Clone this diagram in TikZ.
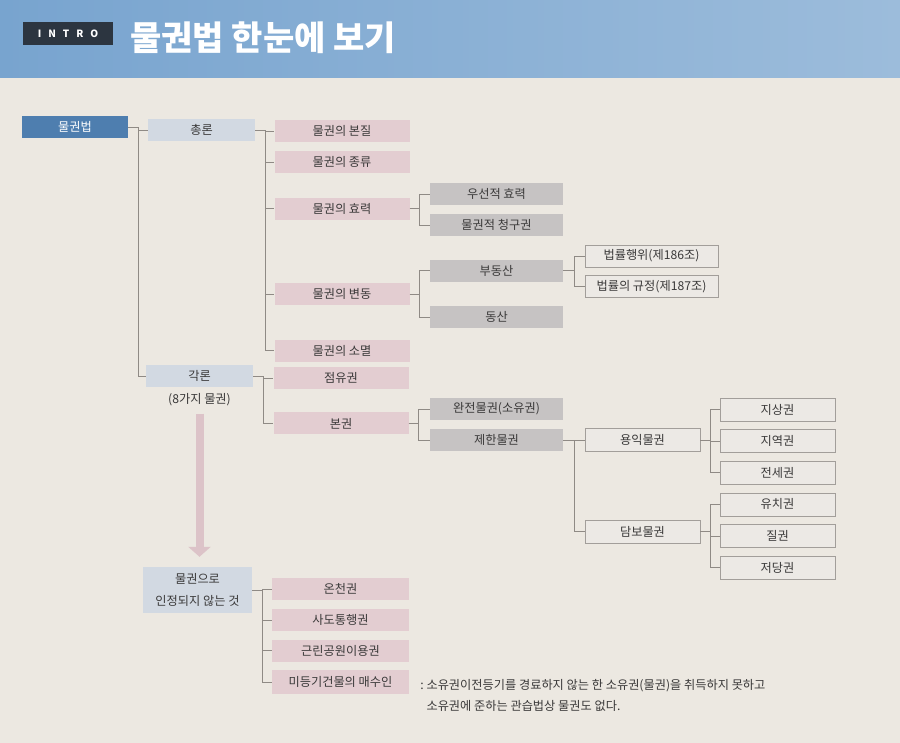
\documentclass[tikz,border=0pt]{standalone}
\usepackage{fontspec}
\setmainfont{Noto Sans CJK KR}
\usepackage{tikz}
\usetikzlibrary{positioning,arrows.meta}
\definecolor{pagebg}{HTML}{ECE8E1}
\definecolor{headleft}{HTML}{78A4CF}
\definecolor{headright}{HTML}{9CBCDB}
\definecolor{introbg}{HTML}{2C3540}
\definecolor{rootblue}{HTML}{4E7EAF}
\definecolor{headblue}{HTML}{D2D9E2}
\definecolor{pinkfill}{HTML}{E3CDD1}
\definecolor{grayfill}{HTML}{C6C3C3}
\definecolor{boxfill}{HTML}{ECE9E5}
\definecolor{boxedge}{HTML}{A29E9A}
\definecolor{linegray}{HTML}{8F8A85}
\definecolor{inkgray}{HTML}{3A3939}
\definecolor{arrowpink}{HTML}{DCC3C8}

\begin{document}
\begin{tikzpicture}[x=1pt, y=-1pt,
    node distance=9pt,
    every node/.style={font=\fontsize{12.2}{14}\selectfont, text=inkgray},
    block/.style={rectangle, inner sep=0pt, minimum height=22pt, align=center},
    rootbox/.style={block, fill=rootblue, text=white, minimum width=106pt},
    headbox/.style={block, fill=headblue, minimum width=107pt},
    pinkbox/.style={block, fill=pinkfill, minimum width=135pt},
    graybox/.style={block, fill=grayfill, minimum width=133pt},
    linebox/.style={block, fill=boxfill, draw=boxedge, line width=0.6pt, minimum width=133pt},
    smallbox/.style={linebox, minimum width=115pt, minimum height=23pt},
    link/.style={draw=linegray, line width=0.7pt},
    arrow/.style={-{Triangle[width=22pt,length=10pt]}, line width=8pt, draw=arrowpink}
]
\useasboundingbox (0,0) rectangle (900,743);
\fill[pagebg] (0,0) rectangle (900,743);
\fill[left color=headleft, right color=headright] (0,0) rectangle (900,78);

\node[fill=introbg, minimum width=90pt, minimum height=23pt, inner sep=0pt, text=white, font=\bfseries\fontsize{10}{10}\selectfont] (intro) at (68,33.5) {I\hspace{7pt}N\hspace{7pt}T\hspace{7pt}R\hspace{7pt}O};
\node[anchor=west, inner sep=0pt, text=white, font=\bfseries\fontsize{34}{36}\selectfont] (title) at (130,38) {물권법 한눈에 보기};

\node[rootbox] (root) at (75,127) {물권법};
\node[headbox] (chongron) at (201.5,130) {총론};
\node[pinkbox] (essence) at (342,131) {물권의 본질};
\node[pinkbox, below=of essence] (kinds) {물권의 종류};
\node[pinkbox, below=24pt of kinds] (effect) {물권의 효력};
\node[pinkbox, below=63pt of effect] (change) {물권의 변동};
\node[pinkbox, below=34pt of change] (extinct) {물권의 소멸};
\node[graybox] (priority) at (496.5,194) {우선적 효력};
\node[graybox, below=of priority] (claim) {물권적 청구권};
\node[graybox, below=23pt of claim] (realty) {부동산};
\node[graybox, below=24pt of realty] (movable) {동산};
\node[linebox] (juristic) at (651.5,256) {법률행위(제186조)};
\node[linebox, below=8pt of juristic] (statute) {법률의 규정(제187조)};

\node[headbox] (gakron) at (199.5,376) {각론};
\node[below=3pt of gakron] (gakronnote) {(8가지 물권)};
\node[pinkbox] (possession) at (341,378) {점유권};
\node[pinkbox, below=23pt of possession] (principal) {본권};
\node[graybox] (full) at (496.5,409) {완전물권(소유권)};
\node[graybox, below=of full] (limited) {제한물권};
\node[smallbox] (usufruct) at (642.5,440) {용익물권};
\node[smallbox] (security) at (642.5,531.5) {담보물권};
\node[smallbox] (superficies) at (777.5,409.5) {지상권};
\node[smallbox, below=8pt of superficies] (servitude) {지역권};
\node[smallbox, below=8pt of servitude] (jeonse) {전세권};
\node[smallbox, below=8pt of jeonse] (lien) {유치권};
\node[smallbox, below=8pt of lien] (pledge) {질권};
\node[smallbox, below=8pt of pledge] (mortgage) {저당권};

\node[headbox, minimum height=46pt, minimum width=109pt, font=\fontsize{12.2}{22}\selectfont] (notreal) at (197.5,590) {물권으로\\인정되지 않는 것};
\node[pinkbox, minimum width=137pt] (hotspring) at (340.5,589) {온천권};
\node[pinkbox, minimum width=137pt, below=of hotspring] (privateroad) {사도통행권};
\node[pinkbox, minimum width=137pt, below=8pt of privateroad] (park) {근린공원이용권};
\node[pinkbox, minimum width=137pt, minimum height=24pt, below=8pt of park] (buyer) {미등기건물의 매수인};
\node[right=11pt of buyer.north east, anchor=north west, yshift=-9pt, inner sep=0pt, align=left, font=\fontsize{12.2}{21.5}\selectfont] (note) {:\ 소유권이전등기를 경료하지 않는 한 소유권(물권)을 취득하지 못하고\\\phantom{:\ }소유권에 준하는 관습법상 물권도 없다.};

\draw[arrow, shorten <=4pt, shorten >=10pt] (gakronnote.south) -- (gakronnote.south |- notreal.north);

\draw[link] (root.east) -- ++(10,0) |- (chongron.west);
\draw[link] (root.east) -- ++(10,0) |- (gakron.west);
\foreach \n in {essence,kinds,effect,change,extinct}
  \draw[link] (chongron.east) -- ++(10,0) |- (\n.west);
\foreach \n in {priority,claim}
  \draw[link] (effect.east) -- ++(10,0) |- (\n.west);
\foreach \n in {realty,movable}
  \draw[link] (change.east) -- ++(10,0) |- (\n.west);
\foreach \n in {juristic,statute}
  \draw[link] (realty.east) -- ++(11,0) |- (\n.west);
\foreach \n in {possession,principal}
  \draw[link] (gakron.east) -- ++(10,0) |- (\n.west);
\foreach \n in {full,limited}
  \draw[link] (principal.east) -- ++(10,0) |- (\n.west);
\foreach \n in {usufruct,security}
  \draw[link] (limited.east) -- ++(11,0) |- (\n.west);
\foreach \n in {superficies,servitude,jeonse}
  \draw[link] (usufruct.east) -- ++(10,0) |- (\n.west);
\foreach \n in {lien,pledge,mortgage}
  \draw[link] (security.east) -- ++(10,0) |- (\n.west);
\foreach \n in {hotspring,privateroad,park,buyer}
  \draw[link] (notreal.east) -- ++(10,0) |- (\n.west);
\end{tikzpicture}
\end{document}
